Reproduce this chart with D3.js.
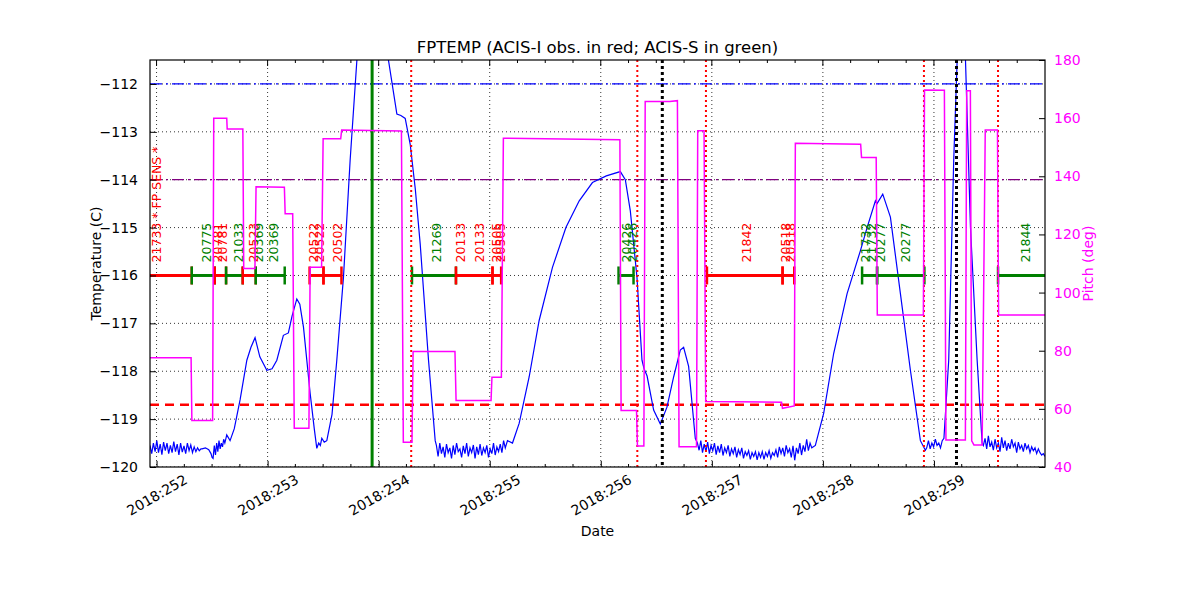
<!DOCTYPE html>
<html><head><meta charset="utf-8">
<script src="https://cdn.jsdelivr.net/npm/d3@7"></script>
<style>body{margin:0;background:#fff;} text{font-family:"DejaVu Sans",sans-serif;}</style>
</head><body><svg id="c" width="1200" height="600"></svg>
<script>
// ---------------- DATA ----------------
const xTickDays = [252, 253, 254, 255, 256, 257, 258, 259];
const xTickLabels = ["2018:252","2018:253","2018:254","2018:255","2018:256","2018:257","2018:258","2018:259"];
const tempTicks = [-120,-119,-118,-117,-116,-115,-114,-113,-112];
const pitchTicks = [40,60,80,100,120,140,160,180];

// smooth parts of FPTEMP: [day, degC]
const tempSmooth = [
 [252.41,-119.62],[252.44,-119.6],[252.47,-119.64],[252.49,-119.72],[252.50,-119.8],[252.509,-119.82],
 [252.632,-119.33],[252.662,-119.45],[252.70,-119.2],[252.752,-118.6],[252.813,-117.77],[252.85,-117.5],
 [252.887,-117.3],[252.93,-117.7],[252.993,-117.98],[253.04,-117.95],[253.083,-117.77],[253.142,-117.25],
 [253.187,-117.2],[253.22,-116.85],[253.263,-116.49],[253.29,-116.6],[253.323,-117.08],[253.383,-118.46],
 [253.42,-119.2],[253.443,-119.61],[253.46,-119.5],[253.475,-119.55],[253.488,-119.4],[253.51,-119.48],
 [253.533,-119.45],[253.58,-118.9],[253.623,-117.77],[253.683,-116.04],[253.743,-113.6],[253.804,-111.5],
 [253.85,-110.4],[253.94,-109.8],[254.03,-110.4],[254.088,-111.5],[254.164,-112.63],[254.20,-112.66],
 [254.239,-112.72],[254.284,-113.26],[254.33,-114.2],[254.374,-115.34],[254.449,-117.77],[254.509,-119.45],
 [255.16,-119.45],[255.205,-119.5],[255.265,-119.09],[255.355,-118.12],[255.445,-116.94],[255.565,-115.83],
 [255.686,-115.0],[255.806,-114.44],[255.925,-114.06],[256.05,-113.92],[256.176,-113.83],[256.221,-114.0],
 [256.266,-114.65],[256.326,-116.04],[256.371,-117.77],[256.39,-117.95],[256.417,-118.1],[256.476,-118.81],
 [256.536,-119.1],[256.596,-118.75],[256.656,-118.12],[256.716,-117.56],[256.746,-117.5],[256.791,-117.9],
 [256.851,-119.4],
 [257.932,-119.55],[258.007,-118.88],[258.097,-117.63],[258.218,-116.38],[258.338,-115.48],[258.398,-115.0],
 [258.473,-114.44],[258.488,-114.5],[258.539,-114.3],[258.608,-114.78],[258.698,-116.38],[258.788,-117.98],
 [258.878,-119.45],[258.923,-119.65],
 [259.133,-117.77],[259.178,-113.6],[259.209,-111.5],[259.245,-110.5],[259.284,-111.5],[259.329,-115.0],
 [259.389,-117.77],[259.434,-119.5]
];
// noisy stretches of FPTEMP: [startDay, endDay, values evenly spaced between]
const noiseA = [251.941, 252.40, [-119.55,-119.72,-119.5,-119.68,-119.45,-119.7,-119.52,-119.74,-119.48,-119.66,-119.5,-119.72,-119.55,-119.7,-119.47,-119.68,-119.52,-119.75,-119.5,-119.69,-119.56,-119.72,-119.5,-119.66,-119.54,-119.7,-119.58,-119.68,-119.6,-119.66,-119.62]];
const noiseA2 = [252.52, 252.615, [-119.55,-119.75,-119.5,-119.68,-119.45,-119.62,-119.5,-119.58,-119.42,-119.5]];
const noiseB = [254.52, 255.14, [-119.55,-119.78,-119.5,-119.72,-119.58,-119.8,-119.52,-119.7,-119.6,-119.82,-119.55,-119.74,-119.5,-119.68,-119.62,-119.8,-119.56,-119.72,-119.5,-119.78,-119.6,-119.7,-119.54,-119.82,-119.58,-119.74,-119.52,-119.76,-119.6,-119.7,-119.55,-119.8,-119.62,-119.72,-119.5,-119.75,-119.58,-119.68,-119.52,-119.7,-119.45,-119.6]];
const noiseC = [256.87, 257.90, [-119.5,-119.65,-119.45,-119.7,-119.52,-119.68,-119.48,-119.72,-119.55,-119.66,-119.5,-119.74,-119.56,-119.7,-119.52,-119.76,-119.6,-119.7,-119.55,-119.78,-119.62,-119.72,-119.58,-119.8,-119.64,-119.74,-119.6,-119.82,-119.68,-119.76,-119.66,-119.84,-119.7,-119.78,-119.68,-119.85,-119.7,-119.8,-119.68,-119.84,-119.7,-119.78,-119.66,-119.82,-119.7,-119.76,-119.64,-119.8,-119.58,-119.72,-119.6,-119.78,-119.55,-119.7,-119.62,-119.8,-119.56,-119.86,-119.6,-119.72,-119.5,-119.75,-119.55,-119.68,-119.42,-119.66,-119.5,-119.6]];
const noiseD = [258.935, 259.09, [-119.6,-119.45,-119.62,-119.5,-119.58,-119.42,-119.55,-119.5,-119.6,-119.45,-119.4]];
const noiseE = [259.445, 260.0, [-119.55,-119.4,-119.62,-119.35,-119.58,-119.48,-119.65,-119.42,-119.6,-119.5,-119.68,-119.38,-119.6,-119.45,-119.66,-119.5,-119.62,-119.42,-119.58,-119.5,-119.7,-119.48,-119.62,-119.55,-119.68,-119.5,-119.62,-119.55,-119.7,-119.58,-119.66,-119.6,-119.72,-119.62,-119.7,-119.75,-119.72,-119.78]];

// pitch: [day, deg]
const pitchPoints = [
 [251.941,77.6],[252.311,77.6],[252.318,56],[252.505,56],[252.515,160],[252.632,160],[252.636,156.3],[252.777,156.3],
 [252.785,108.3],[252.886,108.3],[252.896,136.4],[253.151,136.2],[253.158,127.1],[253.226,127.1],[253.24,53.3],
 [253.372,53.3],[253.383,108.7],[253.486,108.7],[253.50,152.9],[253.658,152.9],[253.667,155.9],[254.205,155.6],
 [254.222,48.5],[254.300,48.5],[254.31,79.7],[254.687,79.7],[254.697,62.9],[255.012,62.9],[255.02,70.9],
 [255.105,70.9],[255.123,153.1],[256.172,152.6],[256.183,59.4],[256.322,59.4],[256.33,47.2],[256.388,47.2],
 [256.40,165.7],[256.62,165.7],[256.69,166.0],[256.705,47],[256.862,47],[256.873,155.7],[256.93,155.7],
 [256.945,62.5],[257.628,62.3],[257.636,60.2],[257.742,61],[257.752,151.4],[258.34,151.0],[258.348,146.5],
 [258.48,146.5],[258.49,92.3],[258.905,92.3],[258.915,169.7],[259.094,169.6],[259.108,49.3],[259.283,49.3],
 [259.295,169.4],[259.328,169.4],[259.34,49],[259.36,47.6],[259.434,47.6],[259.462,155.9],[259.572,155.9],
 [259.582,92.3],[260.0,92.3]
];

// observations: [start, end, instrument]
const obsSpans = [
 [251.5,252.317,"I"],[252.317,252.524,"S"],[252.524,252.626,"I"],[252.626,252.776,"S"],[252.776,252.893,"I"],
 [252.893,253.154,"S"],[253.378,253.503,"I"],[253.503,253.665,"I"],[254.300,254.696,"S"],[254.696,255.025,"I"],
 [255.025,255.103,"I"],[256.160,256.295,"S"],[256.956,257.637,"I"],[257.637,257.742,"I"],[258.353,258.488,"S"],
 [258.488,258.914,"S"],[259.577,260.5,"S"]
];
// obsid labels: [day, text, instrument]
const obsLabels = [
 [252.002,"21733 * FP SENS *","I"],[252.452,"20775","S"],[252.548,"20781","I"],[252.599,"20781","I"],
 [252.737,"21033","S"],[252.872,"20523","I"],[252.921,"20369","S"],[253.052,"20369","S"],
 [253.410,"20522","I"],[253.468,"20522","I"],[253.626,"20502","I"],[254.524,"21269","S"],
 [254.734,"20133","I"],[254.908,"20133","I"],[255.065,"20505","I"],[255.095,"20505","I"],
 [256.236,"20426","S"],[256.290,"20426","S"],[257.317,"21842","I"],[257.662,"20518","I"],[257.707,"20518","I"],
 [258.383,"21732","S"],[258.443,"21732","S"],[258.518,"20277","S"],[258.743,"20277","S"],[259.824,"21844","S"]
];
const obsLevel = -116;
// limits (degC) and events
const tempLimits = [[-112,"blue"],[-114,"purple"],[-118.7,"red"]];
const radMarks = [254.293, 256.329, 256.947, 258.910, 259.577];   // red dotted
const perigeeMarks = [256.554, 259.203];                           // black dotted
const loadMarks = [253.941];                                       // green solid

// ---------------- CHART ----------------
const svg = d3.select("#c");
const L=150, R=1045, T=60, B=467;
const x = d3.scaleLinear().domain([251.941, 260.0]).range([L, R]);
const yT = d3.scaleLinear().domain([-120, -111.5]).range([B, T]);
const yP = d3.scaleLinear().domain([40, 180]).range([B, T]);
const colorOf = k => k === "I" ? "#ff0000" : "#008000";

svg.append("defs").append("clipPath").attr("id","clip")
  .append("rect").attr("x",L).attr("y",T).attr("width",R-L).attr("height",B-T);
const plot = svg.append("g").attr("clip-path","url(#clip)");

// grid
xTickDays.forEach(d => plot.append("line").attr("x1",x(d)).attr("x2",x(d)).attr("y1",T).attr("y2",B)
  .attr("stroke","#000").attr("stroke-width",0.8).attr("stroke-dasharray","1,3"));
tempTicks.forEach(t => plot.append("line").attr("x1",L).attr("x2",R).attr("y1",yT(t)).attr("y2",yT(t))
  .attr("stroke","#000").attr("stroke-width",0.8).attr("stroke-dasharray","1,3"));

// limit lines
tempLimits.forEach(([t,c]) => {
  const l = plot.append("line").attr("x1",L).attr("x2",R).attr("y1",yT(t)).attr("y2",yT(t)).attr("stroke",c);
  if (c === "red") l.attr("stroke-width",2.5).attr("stroke-dasharray","9,6");
  else l.attr("stroke-width",1.2).attr("stroke-dasharray","12,4,2,4");
});

// temperature
const tempAll = tempSmooth.slice();
[noiseA,noiseA2,noiseB,noiseC,noiseD,noiseE].forEach(([s,e,vals]) => {
  vals.forEach((v,i) => tempAll.push([s + (e-s)*i/(vals.length-1), v]));
});
tempAll.sort((a,b)=>a[0]-b[0]);
plot.append("path").datum(tempAll)
  .attr("d", d3.line().x(d=>x(d[0])).y(d=>yT(d[1])))
  .attr("fill","none").attr("stroke","#0000ff").attr("stroke-width",1.2);

// observations
obsSpans.forEach(([s,e,k]) => {
  const c = colorOf(k);
  plot.append("line").attr("x1",x(s)).attr("x2",x(e)).attr("y1",yT(obsLevel)).attr("y2",yT(obsLevel))
    .attr("stroke",c).attr("stroke-width",3);
  [s,e].forEach(d => plot.append("line").attr("x1",x(d)).attr("x2",x(d))
    .attr("y1",yT(obsLevel)-9).attr("y2",yT(obsLevel)+9).attr("stroke",c).attr("stroke-width",2.5));
});
obsLabels.forEach(([d,txt,k]) => {
  plot.append("text").attr("transform",`translate(${x(d)},${yT(obsLevel)-13}) rotate(-90)`)
    .attr("text-anchor","start").attr("dy","0.35em").attr("font-size",12.5)
    .attr("fill",colorOf(k)).text(txt);
});

// vertical markers
loadMarks.forEach(d => plot.append("line").attr("x1",x(d)).attr("x2",x(d)).attr("y1",T).attr("y2",B)
  .attr("stroke","#008000").attr("stroke-width",3));
radMarks.forEach(d => plot.append("line").attr("x1",x(d)).attr("x2",x(d)).attr("y1",T).attr("y2",B)
  .attr("stroke","#ff0000").attr("stroke-width",2).attr("stroke-dasharray","2,3"));
perigeeMarks.forEach(d => plot.append("line").attr("x1",x(d)).attr("x2",x(d)).attr("y1",T).attr("y2",B)
  .attr("stroke","#000").attr("stroke-width",3).attr("stroke-dasharray","3,3"));

// pitch
plot.append("path").datum(pitchPoints)
  .attr("d", d3.line().x(d=>x(d[0])).y(d=>yP(d[1])))
  .attr("fill","none").attr("stroke","#ff00ff").attr("stroke-width",1.5);

// frame
svg.append("rect").attr("x",L).attr("y",T).attr("width",R-L).attr("height",B-T)
  .attr("fill","none").attr("stroke","#000").attr("stroke-width",1.2);

// axes
const fs = 14;
const gx = svg.append("g").attr("transform",`translate(0,${B})`)
  .call(d3.axisBottom(x).tickValues(xTickDays).tickFormat((d,i)=>xTickLabels[i]).tickSizeInner(-6).tickSizeOuter(0));
gx.select(".domain").remove();
gx.selectAll("text").attr("font-size",fs).attr("font-family","DejaVu Sans").attr("fill","#000")
  .attr("text-anchor","middle").attr("dy","0.35em").attr("y",0)
  .attr("transform","translate(0,28) rotate(-30)");
// minor x ticks
const minor = d3.range(251.75, 260.01, 0.25).filter(d => d >= 251.941 && Math.abs(d - Math.round(d)) > 0.01);
minor.forEach(d => {
  svg.append("line").attr("x1",x(d)).attr("x2",x(d)).attr("y1",B).attr("y2",B-3).attr("stroke","#000");
  svg.append("line").attr("x1",x(d)).attr("x2",x(d)).attr("y1",T).attr("y2",T+3).attr("stroke","#000");
});
xTickDays.forEach(d => svg.append("line").attr("x1",x(d)).attr("x2",x(d)).attr("y1",T).attr("y2",T+6).attr("stroke","#000"));

const gl = svg.append("g").attr("transform",`translate(${L},0)`)
  .call(d3.axisLeft(yT).tickValues(tempTicks).tickFormat(d3.format("d")).tickSizeInner(-6).tickSizeOuter(0).tickPadding(12));
gl.select(".domain").remove();
gl.selectAll("text").attr("font-size",fs).attr("font-family","DejaVu Sans").attr("fill","#000");

const gr = svg.append("g").attr("transform",`translate(${R},0)`)
  .call(d3.axisRight(yP).tickValues(pitchTicks).tickFormat(d3.format("d")).tickSizeInner(-6).tickSizeOuter(0).tickPadding(9));
gr.select(".domain").remove();
gr.selectAll("line").attr("stroke","#000");
gr.selectAll("text").attr("font-size",fs).attr("font-family","DejaVu Sans").attr("fill","#ff00ff");

// titles
svg.append("text").attr("x",(L+R)/2).attr("y",53).attr("text-anchor","middle").attr("font-size",16.5)
  .text("FPTEMP (ACIS-I obs. in red; ACIS-S in green)");
svg.append("text").attr("x",(L+R)/2).attr("y",536).attr("text-anchor","middle").attr("font-size",fs).text("Date");
svg.append("text").attr("transform",`translate(101,${(T+B)/2}) rotate(-90)`).attr("text-anchor","middle")
  .attr("font-size",fs).text("Temperature (C)");
svg.append("text").attr("transform",`translate(1093,${(T+B)/2}) rotate(-90)`).attr("text-anchor","middle")
  .attr("font-size",fs).attr("fill","#ff00ff").text("Pitch (deg)");
</script></body></html>
